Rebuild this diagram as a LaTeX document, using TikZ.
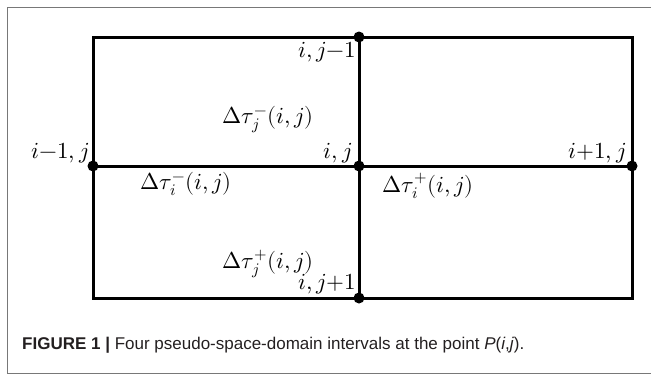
\documentclass[tikz,border=0pt]{standalone}
\usepackage{amsmath}
\usepackage{fontspec}
\usepackage{unicode-math}
\setsansfont{Liberation Sans}
\usepackage{tikz}
\definecolor{framegray}{RGB}{120, 120, 120}
\definecolor{captext}{RGB}{35, 31, 32}

\begin{document}
\begin{tikzpicture}[x=1pt, y=-1pt,
    gridline/.style={line width=3pt, line cap=rect},
    gridpt/.style={circle, fill=black, inner sep=0pt, minimum size=11pt},
    lbl/.style={font=\fontsize{23}{27}\selectfont, inner sep=0pt}]
    \useasboundingbox (0,0) rectangle (651,375);
    %% outer frame
    \draw[framegray, line width=1pt] (651,7) -- (7,7) -- (7,373) -- (651,373);

    %% grid corners
    \coordinate (tl) at (93,37);  \coordinate (tm) at (359,37);  \coordinate (tr) at (632,37);
    \coordinate (ml) at (93,166); \coordinate (mm) at (359,166); \coordinate (mr) at (632,166);
    \coordinate (bl) at (93,298); \coordinate (bm) at (359,298); \coordinate (br) at (632,298);

    \draw[gridline] (tl) -- (tr) -- (br) -- (bl) -- cycle;
    \draw[gridline] (ml) -- (mr);
    \draw[gridline] (tm) -- (bm);

    %% grid points
    \foreach \p in {tm,ml,mm,mr,bm} \node[gridpt] (dot-\p) at (\p) {};

    %% point labels
    \node[lbl, anchor=south east] (up) at (356,62) {$i,j{-}1$};
    \node[lbl, anchor=south east] (left) at (89,163) {$i{-}1,j$};
    \node[lbl, anchor=south east] (centre) at (352,163) {$i,j$};
    \node[lbl, anchor=south east] (right) at (626,163) {$i{+}1,j$};
    \node[lbl, anchor=south east] (down) at (356,294) {$i,j{+}1$};

    %% intervals
    \node[lbl] (tjm) at (268,120) {$\Delta\tau_j^-(i,j)$};
    \node[lbl] (tim) at (186,184) {$\Delta\tau_i^-(i,j)$};
    \node[lbl] (tip) at (428,186) {$\Delta\tau_i^+(i,j)$};
    \node[lbl] (tjp) at (268,264) {$\Delta\tau_j^+(i,j)$};

    %% caption
    \node[anchor=west, inner sep=0pt, text=captext, font=\sffamily\fontsize{17}{20}\selectfont] (cap) at (22,345)
      {\textbf{FIGURE 1 |} Four pseudo-space-domain intervals at the point \textit{P}(\textit{i},\textit{j}).};
\end{tikzpicture}
\end{document}
